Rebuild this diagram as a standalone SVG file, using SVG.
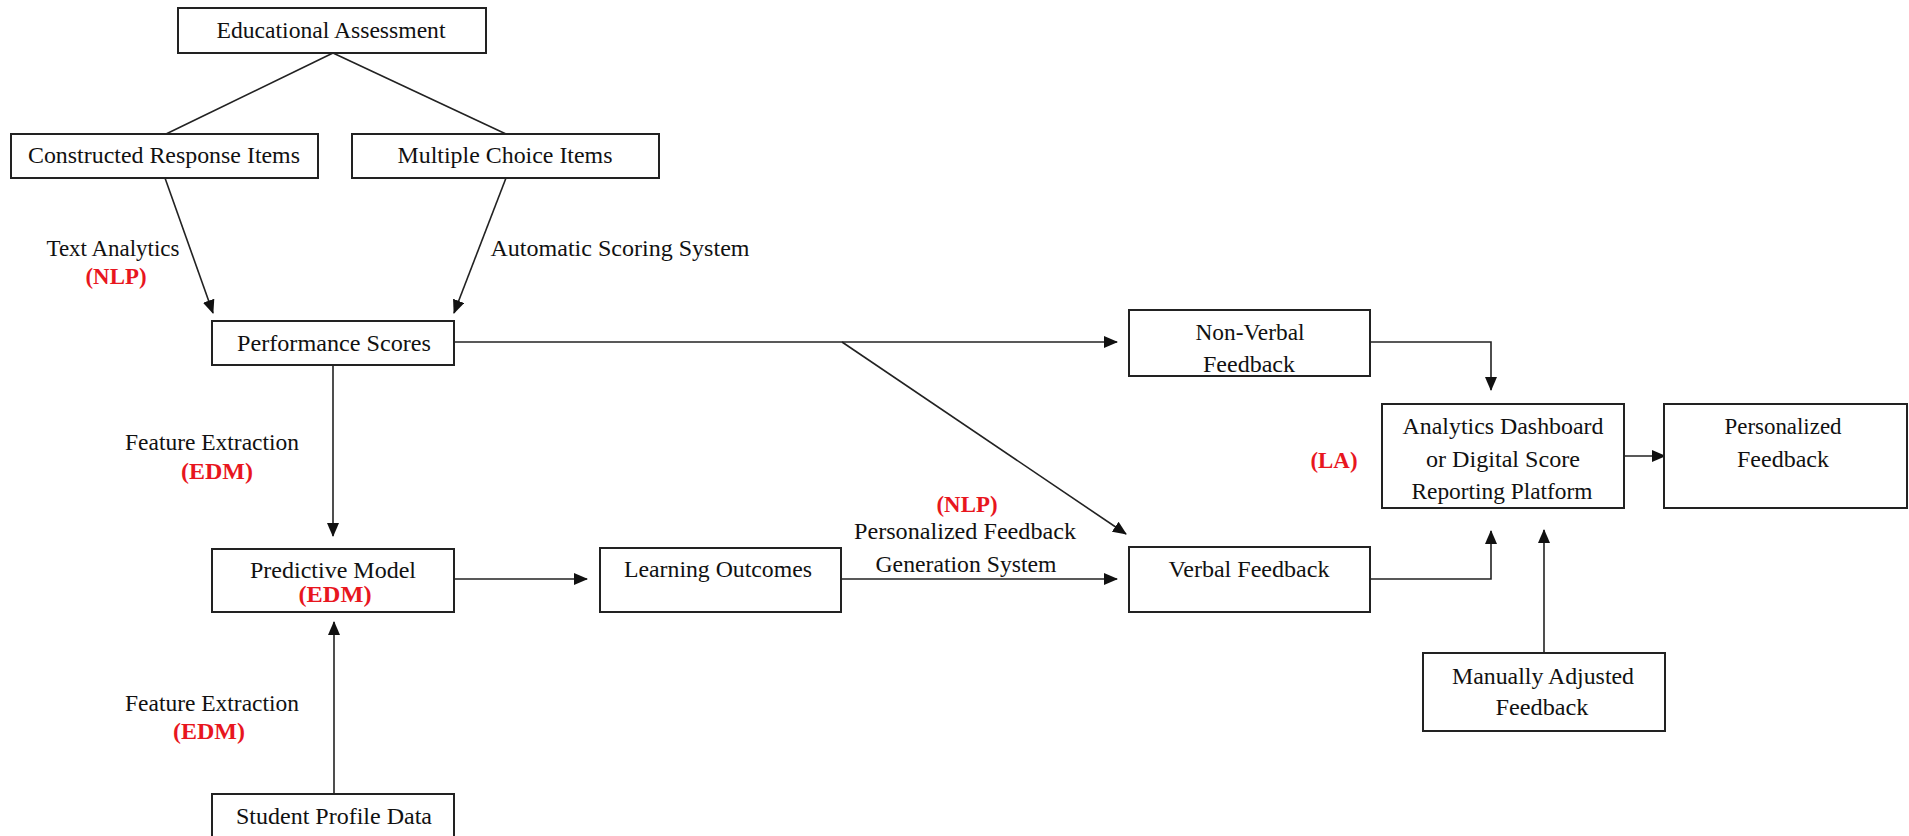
<svg xmlns="http://www.w3.org/2000/svg" width="1909" height="836" viewBox="0 0 1909 836">
<style>
.box{fill:#fff;stroke:#222;stroke-width:2}
.t{font-family:"Liberation Serif","Times New Roman",serif;font-size:24px;fill:#111;text-anchor:middle}
.r{font-family:"Liberation Serif","Times New Roman",serif;font-size:24px;font-weight:bold;fill:#e8161e;text-anchor:middle}
.c{fill:none;stroke:#222;stroke-width:1.6}
</style>
<defs>
<marker id="ah" markerUnits="userSpaceOnUse" markerWidth="14" markerHeight="12" refX="13" refY="6" orient="auto">
<path d="M0,0 L14,6 L0,12 Z" fill="#111"/>
</marker>
</defs>
<rect width="1909" height="836" fill="#fff"/>
<g id="connectors">
<line class="c" x1="333" y1="53" x2="166" y2="134"/>
<line class="c" x1="333" y1="53" x2="506" y2="134"/>
<line class="c" x1="165" y1="178" x2="213" y2="313" marker-end="url(#ah)"/>
<line class="c" x1="506" y1="178" x2="454" y2="313" marker-end="url(#ah)"/>
<line class="c" x1="454" y1="342" x2="1117" y2="342" marker-end="url(#ah)"/>
<line class="c" x1="842" y1="342" x2="1126" y2="534" marker-end="url(#ah)"/>
<line class="c" x1="333" y1="365" x2="333" y2="536" marker-end="url(#ah)"/>
<line class="c" x1="334" y1="794" x2="334" y2="622" marker-end="url(#ah)"/>
<line class="c" x1="454" y1="579" x2="587" y2="579" marker-end="url(#ah)"/>
<line class="c" x1="841" y1="579" x2="1117" y2="579" marker-end="url(#ah)"/>
<polyline class="c" points="1370,342 1491,342 1491,390" marker-end="url(#ah)"/>
<polyline class="c" points="1370,579 1491,579 1491,531" marker-end="url(#ah)"/>
<line class="c" x1="1544" y1="653" x2="1544" y2="530" marker-end="url(#ah)"/>
<line class="c" x1="1624" y1="456" x2="1665" y2="456" marker-end="url(#ah)"/>
</g>
<g id="n-educational-assessment"><rect class="box" x="178" y="8" width="308" height="45"/><text class="t" x="331" y="38" textLength="229" lengthAdjust="spacingAndGlyphs">Educational Assessment</text></g>
<g id="n-constructed"><rect class="box" x="11" y="134" width="307" height="44"/><text class="t" x="164" y="163" textLength="272" lengthAdjust="spacingAndGlyphs">Constructed Response Items</text></g>
<g id="n-multiple"><rect class="box" x="352" y="134" width="307" height="44"/><text class="t" x="505" y="163" textLength="215" lengthAdjust="spacingAndGlyphs">Multiple Choice Items</text></g>
<g id="l-text-analytics"><text class="t" x="113" y="256" textLength="133" lengthAdjust="spacingAndGlyphs">Text Analytics</text><text class="r" x="116" y="284" textLength="61" lengthAdjust="spacingAndGlyphs">(NLP)</text></g>
<g id="l-automatic"><text class="t" x="620" y="256" textLength="259" lengthAdjust="spacingAndGlyphs">Automatic Scoring System</text></g>
<g id="n-performance"><rect class="box" x="212" y="321" width="242" height="44"/><text class="t" x="334" y="351" textLength="194" lengthAdjust="spacingAndGlyphs">Performance Scores</text></g>
<g id="l-fe1"><text class="t" x="212" y="450" textLength="174" lengthAdjust="spacingAndGlyphs">Feature Extraction</text><text class="r" x="217" y="479" textLength="72" lengthAdjust="spacingAndGlyphs">(EDM)</text></g>
<g id="n-predictive"><rect class="box" x="212" y="549" width="242" height="63"/><text class="t" x="333" y="578" textLength="166" lengthAdjust="spacingAndGlyphs">Predictive Model</text><text class="r" x="335" y="602" textLength="73" lengthAdjust="spacingAndGlyphs">(EDM)</text></g>
<g id="l-fe2"><text class="t" x="212" y="711" textLength="174" lengthAdjust="spacingAndGlyphs">Feature Extraction</text><text class="r" x="209" y="739" textLength="72" lengthAdjust="spacingAndGlyphs">(EDM)</text></g>
<g id="n-student"><rect class="box" x="212" y="794" width="242" height="50"/><text class="t" x="334" y="824" textLength="196" lengthAdjust="spacingAndGlyphs">Student Profile Data</text></g>
<g id="n-learning"><rect class="box" x="600" y="548" width="241" height="64"/><text class="t" x="718" y="577" textLength="188" lengthAdjust="spacingAndGlyphs">Learning Outcomes</text></g>
<g id="l-pfgs"><text class="r" x="967" y="512" textLength="61" lengthAdjust="spacingAndGlyphs">(NLP)</text><text class="t" x="965" y="539" textLength="222" lengthAdjust="spacingAndGlyphs">Personalized Feedback</text><text class="t" x="966" y="572" textLength="181" lengthAdjust="spacingAndGlyphs">Generation System</text></g>
<g id="n-nonverbal"><rect class="box" x="1129" y="310" width="241" height="66"/><text class="t" x="1250" y="340" textLength="109" lengthAdjust="spacingAndGlyphs">Non-Verbal</text><text class="t" x="1249" y="372" textLength="92" lengthAdjust="spacingAndGlyphs">Feedback</text></g>
<g id="n-verbal"><rect class="box" x="1129" y="547" width="241" height="65"/><text class="t" x="1249" y="577" textLength="161" lengthAdjust="spacingAndGlyphs">Verbal Feedback</text></g>
<g id="l-la"><text class="r" x="1334" y="468" textLength="47" lengthAdjust="spacingAndGlyphs">(LA)</text></g>
<g id="n-analytics"><rect class="box" x="1382" y="404" width="242" height="104"/><text class="t" x="1503" y="434" textLength="201" lengthAdjust="spacingAndGlyphs">Analytics Dashboard</text><text class="t" x="1503" y="467" textLength="154" lengthAdjust="spacingAndGlyphs">or Digital Score</text><text class="t" x="1502" y="499" textLength="181" lengthAdjust="spacingAndGlyphs">Reporting Platform</text></g>
<g id="n-personalized"><rect class="box" x="1664" y="404" width="243" height="104"/><text class="t" x="1783" y="434" textLength="117" lengthAdjust="spacingAndGlyphs">Personalized</text><text class="t" x="1783" y="467" textLength="92" lengthAdjust="spacingAndGlyphs">Feedback</text></g>
<g id="n-manual"><rect class="box" x="1423" y="653" width="242" height="78"/><text class="t" x="1543" y="684" textLength="182" lengthAdjust="spacingAndGlyphs">Manually Adjusted</text><text class="t" x="1542" y="715" textLength="93" lengthAdjust="spacingAndGlyphs">Feedback</text></g>
</svg>
